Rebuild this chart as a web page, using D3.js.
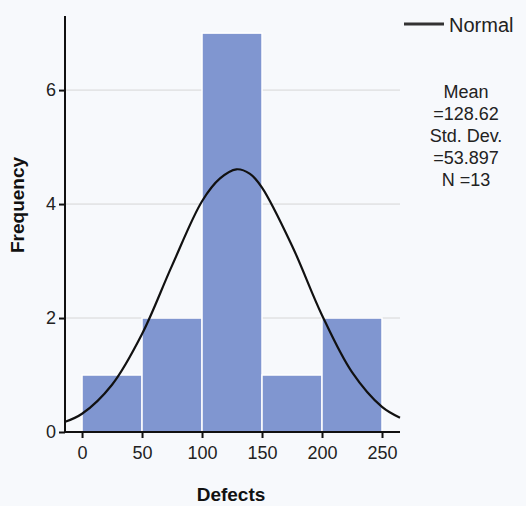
<!DOCTYPE html>
<html lang="en">
<head>
  <meta charset="UTF-8">
  <title>Defects histogram</title>
  <script src="https://cdn.jsdelivr.net/npm/d3@7"></script>
  <style>
    body {
      margin: 0;
      background: #f7f9fc;
      font-family: 'Liberation Sans', Arial, sans-serif;
    }
    .tick text { font-size: 18px; fill: #222; }
  </style>
</head>
<body>
  <div id="chart"></div>

  <script>
    // histogram bins (Defects) and counts
    const binStarts = [0, 50, 100, 150, 200];
    const binWidth = 50;
    const counts = [1, 2, 7, 1, 2];

    // fitted normal curve (x = Defects, y = frequency)
    const curveX = [-14, 0, 25, 50, 75, 100, 115, 128.6, 140, 150, 175, 200, 225, 250, 265];
    const curveY = [0.18, 0.32, 0.83, 1.72, 2.92, 4.05, 4.45, 4.61, 4.53, 4.29, 3.27, 2.05, 1.05, 0.44, 0.25];

    const xTicks = [0, 50, 100, 150, 200, 250];
    const yTicks = [0, 2, 4, 6];
    const statsLines = ["Mean", "=128.62", "Std. Dev.", "=53.897", "N =13"];

    const W = 526, H = 506;
    const svg = d3.select("#chart").append("svg")
      .attr("width", W)
      .attr("height", H);

    const x = d3.scaleLinear().domain([-14.2, 265]).range([65, 400]);
    const y = d3.scaleLinear().domain([0, 7.3]).range([432, 16]);

    // gridlines
    svg.append("g")
      .selectAll("line")
      .data(yTicks.filter(d => d > 0))
      .join("line")
      .attr("x1", x.range()[0])
      .attr("x2", x.range()[1])
      .attr("y1", d => y(d))
      .attr("y2", d => y(d))
      .attr("stroke", "#d6d6d6")
      .attr("stroke-width", 1);

    // bars
    svg.append("g")
      .selectAll("rect")
      .data(counts)
      .join("rect")
      .attr("x", (d, i) => x(binStarts[i]))
      .attr("width", (d, i) => x(binStarts[i] + binWidth) - x(binStarts[i]))
      .attr("y", d => y(d))
      .attr("height", d => y(0) - y(d))
      .attr("fill", "#8096d0")
      .attr("stroke", "#ffffff")
      .attr("stroke-width", 1.5);

    // normal curve
    const line = d3.line()
      .x(d => x(d[0]))
      .y(d => y(d[1]))
      .curve(d3.curveCatmullRom);

    svg.append("path")
      .datum(curveX.map((v, i) => [v, curveY[i]]))
      .attr("d", line)
      .attr("fill", "none")
      .attr("stroke", "#111")
      .attr("stroke-width", 2.2);

    // axes
    const xAxis = svg.append("g")
      .attr("transform", `translate(0,${y(0)})`)
      .call(d3.axisBottom(x).tickValues(xTicks).tickSize(6).tickPadding(8).tickFormat(d3.format("d")));
    const yAxis = svg.append("g")
      .attr("transform", `translate(${x.range()[0]},0)`)
      .call(d3.axisLeft(y).tickValues(yTicks).tickSize(6).tickPadding(3).tickFormat(d3.format("d")));

    [xAxis, yAxis].forEach(g => {
      g.select(".domain").attr("stroke", "#111").attr("stroke-width", 2)
        .attr("d", g === xAxis ? `M${x.range()[0]},0H${x.range()[1]}` : `M0,${y.range()[1]}V${y.range()[0]}`);
      g.selectAll(".tick line").attr("stroke", "#111").attr("stroke-width", 2);
      g.selectAll(".tick text").style("font-family", "'Liberation Sans', Arial, sans-serif");
    });

    // axis titles
    svg.append("text")
      .attr("x", 231)
      .attr("y", 501)
      .attr("text-anchor", "middle")
      .style("font-size", "19px")
      .style("font-weight", "bold")
      .attr("fill", "#111")
      .text("Defects");

    svg.append("text")
      .attr("transform", "translate(24,205) rotate(-90)")
      .attr("text-anchor", "middle")
      .style("font-size", "19px")
      .style("font-weight", "bold")
      .attr("fill", "#111")
      .text("Frequency");

    // legend
    svg.append("line")
      .attr("x1", 404).attr("x2", 444)
      .attr("y1", 24).attr("y2", 24)
      .attr("stroke", "#333")
      .attr("stroke-width", 3);
    svg.append("text")
      .attr("x", 449)
      .attr("y", 32)
      .style("font-size", "20px")
      .attr("fill", "#222")
      .text("Normal");

    svg.append("g")
      .selectAll("text")
      .data(statsLines)
      .join("text")
      .attr("x", 466)
      .attr("y", (d, i) => 98 + i * 22)
      .attr("text-anchor", "middle")
      .style("font-size", "18px")
      .attr("fill", "#222")
      .text(d => d);
  </script>
</body>
</html>
